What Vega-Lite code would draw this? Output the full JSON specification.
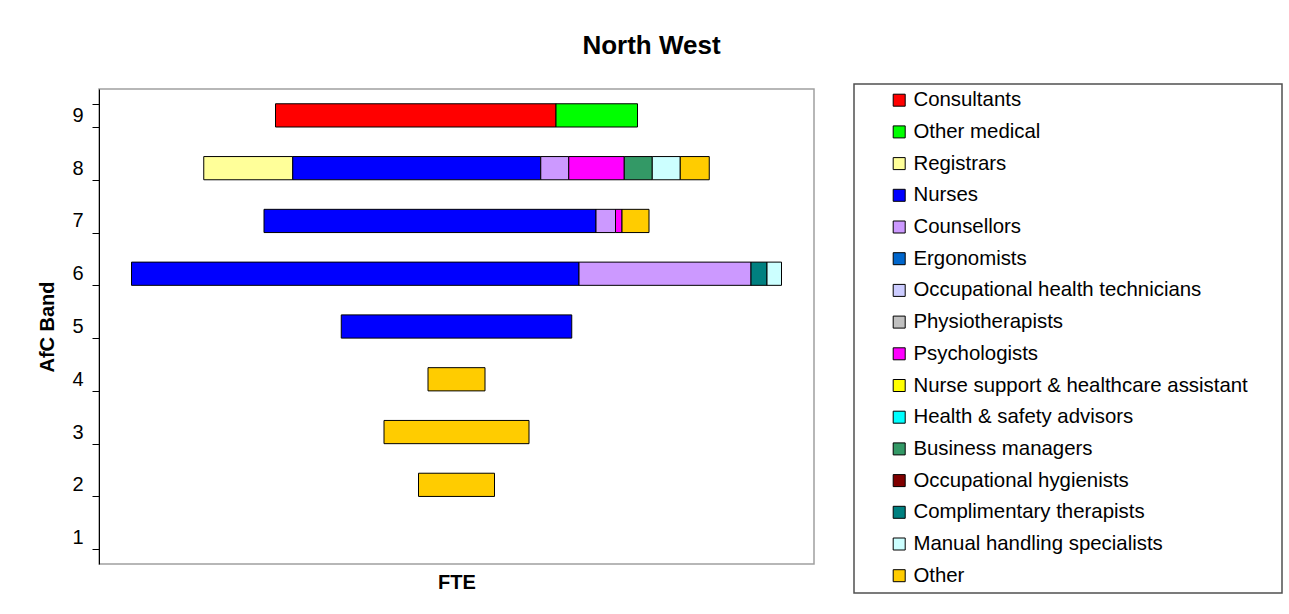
{
  "$schema": "https://vega.github.io/schema/vega-lite/v6.json",
  "autosize": "none",
  "width": 715,
  "height": 475,
  "padding": {"left": 99, "top": 89, "right": 475, "bottom": 50},
  "background": "white",
  "title": {
    "text": "North West",
    "font": "Liberation Sans",
    "fontSize": 26,
    "fontWeight": "bold",
    "color": "black",
    "anchor": "middle",
    "frame": "group",
    "baseline": "alphabetic",
    "dx": 195,
    "offset": -1
  },
  "data": {
    "values": [
      {"band": "9", "role": "Consultants", "seq": 1, "fte": 56.1},
      {"band": "9", "role": "Other medical", "seq": 2, "fte": 16.3},
      {"band": "8", "role": "Registrars", "seq": 3, "fte": 17.8},
      {"band": "8", "role": "Nurses", "seq": 4, "fte": 49.6},
      {"band": "8", "role": "Counsellors", "seq": 5, "fte": 5.6},
      {"band": "8", "role": "Psychologists", "seq": 9, "fte": 11.1},
      {"band": "8", "role": "Business managers", "seq": 12, "fte": 5.6},
      {"band": "8", "role": "Manual handling specialists", "seq": 15, "fte": 5.6},
      {"band": "8", "role": "Other", "seq": 16, "fte": 5.8},
      {"band": "7", "role": "Nurses", "seq": 4, "fte": 66.4},
      {"band": "7", "role": "Counsellors", "seq": 5, "fte": 3.9},
      {"band": "7", "role": "Psychologists", "seq": 9, "fte": 1.3},
      {"band": "7", "role": "Other", "seq": 16, "fte": 5.4},
      {"band": "6", "role": "Nurses", "seq": 4, "fte": 89.5},
      {"band": "6", "role": "Counsellors", "seq": 5, "fte": 34.4},
      {"band": "6", "role": "Complimentary therapists", "seq": 14, "fte": 3.2},
      {"band": "6", "role": "Manual handling specialists", "seq": 15, "fte": 2.9},
      {"band": "5", "role": "Nurses", "seq": 4, "fte": 46.1},
      {"band": "4", "role": "Other", "seq": 16, "fte": 11.4},
      {"band": "3", "role": "Other", "seq": 16, "fte": 29.0},
      {"band": "2", "role": "Other", "seq": 16, "fte": 15.2}
    ]
  },
  "mark": {"type": "bar", "stroke": "black", "strokeWidth": 1},
  "encoding": {
    "y": {
      "field": "band",
      "type": "ordinal",
      "scale": {
        "domain": ["9", "8", "7", "6", "5", "4", "3", "2", "1"],
        "paddingInner": 0.56,
        "paddingOuter": 0.28
      },
      "axis": {
        "title": "AfC Band",
        "titleFont": "Liberation Sans",
        "titleFontSize": 20,
        "titleFontWeight": "bold",
        "titleColor": "black",
        "titlePadding": 14,
        "labelFont": "Liberation Sans",
        "labelFontSize": 20,
        "labelColor": "black",
        "labelPadding": 9,
        "labelAngle": 0,
        "domainColor": "black",
        "domainWidth": 1,
        "tickColor": "black",
        "tickSize": 7,
        "tickBand": "extent",
        "grid": false
      }
    },
    "x": {
      "field": "fte",
      "type": "quantitative",
      "stack": "center",
      "scale": {"domain": [-6.5, 136.5], "nice": false, "zero": false},
      "axis": {
        "title": "FTE",
        "titleFont": "Liberation Sans",
        "titleFontSize": 20,
        "titleFontWeight": "bold",
        "titleColor": "black",
        "titlePadding": 8,
        "labels": false,
        "ticks": false,
        "domain": false,
        "grid": false
      }
    },
    "order": {"field": "seq", "type": "quantitative"},
    "color": {
      "field": "role",
      "type": "nominal",
      "scale": {
        "domain": [
          "Consultants", "Other medical", "Registrars", "Nurses", "Counsellors",
          "Ergonomists", "Occupational health technicians", "Physiotherapists",
          "Psychologists", "Nurse support & healthcare assistant",
          "Health & safety advisors", "Business managers", "Occupational hygienists",
          "Complimentary therapists", "Manual handling specialists", "Other"
        ],
        "range": [
          "#FF0000", "#00FF00", "#FFFF99", "#0000FF", "#CC99FF",
          "#0066CC", "#CCCCFF", "#C0C0C0",
          "#FF00FF", "#FFFF00",
          "#00FFFF", "#339966", "#800000",
          "#008080", "#CCFFFF", "#FFCC00"
        ]
      },
      "legend": {
        "title": " ",
        "titleOrient": "right",
        "titlePadding": 28,
        "titleFontSize": 1,
        "orient": "none",
        "legendX": 755,
        "legendY": -5,
        "padding": 6,
        "strokeColor": "#505050",
        "fillColor": "white",
        "symbolType": "square",
        "symbolSize": 144,
        "symbolStrokeColor": "black",
        "symbolStrokeWidth": 1,
        "symbolOffset": 29,
        "labelOffset": 4,
        "labelFont": "Liberation Sans",
        "labelFontSize": 20.4,
        "labelColor": "black",
        "labelLimit": 0,
        "rowPadding": 10.7,
        "encode": {
          "legend": {"update": {"strokeWidth": {"value": 1.5}}}
        }
      }
    }
  },
  "config": {
    "view": {"stroke": "#A0A0A0", "strokeWidth": 1.5}
  }
}
